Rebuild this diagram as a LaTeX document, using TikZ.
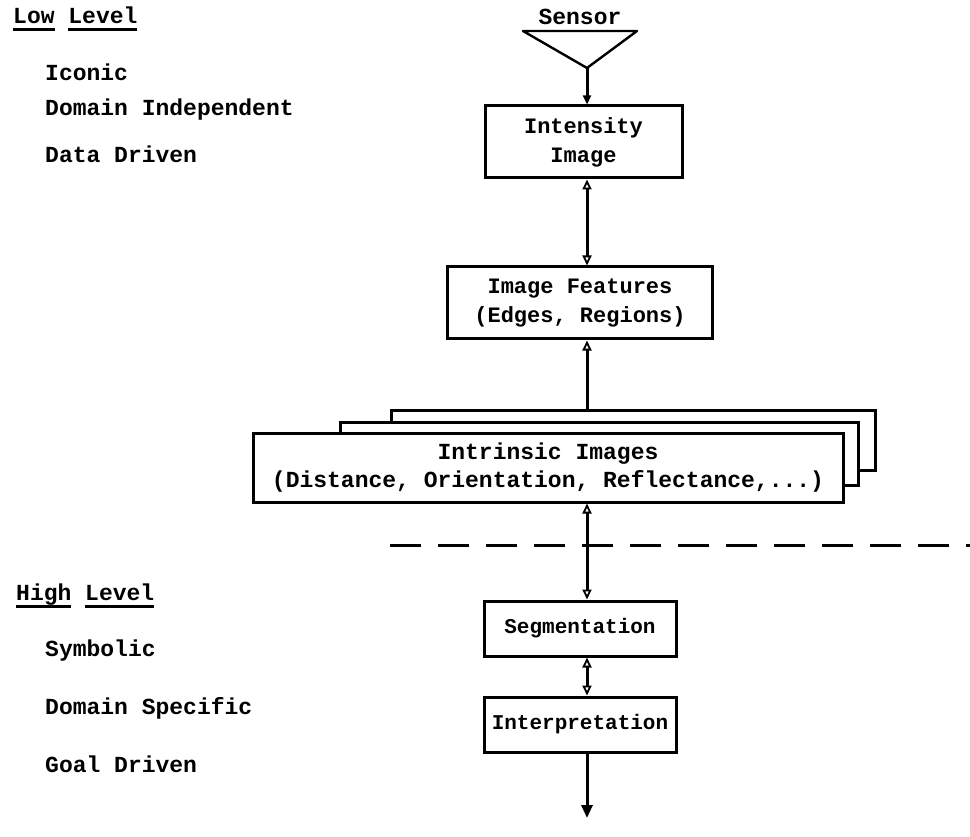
\documentclass[tikz,border=0pt]{standalone}
\usepackage{fontspec}
\setmainfont{Liberation Mono}
\usetikzlibrary{arrows.meta}
\newlength\myulw
\newcommand\myul[1]{\settowidth\myulw{#1}\rlap{\rule[-7pt]{\myulw}{2.6pt}}#1}
\tikzset{
  txt/.style={font=\fontsize{23}{28}\selectfont\bfseries, inner sep=0pt, anchor=west},
  box/.style={draw, line width=3pt, fill=white, align=center, font=\fontsize{22}{29}\selectfont\bfseries, inner sep=0pt},
  smallbox/.style={box, font=\fontsize{21}{28}\selectfont\bfseries},
  conn/.style={line width=3pt},
  otip/.tip={Triangle[open,length=10pt,width=9pt,line width=1.8pt]},
}
\begin{document}
\begin{tikzpicture}[x=1pt,y=-1pt]
\useasboundingbox (0,0) rectangle (970,837);
% left labels
\node[txt] (low) at (13,19) {\myul{Low} \myul{Level}};
\node[txt] (iconic) at (45,72) {Iconic};
\node[txt] (domind) at (45,110) {Domain Independent};
\node[txt] (datadr) at (45,154) {Data Driven};
\node[txt] (high) at (16,596) {\myul{High} \myul{Level}};
\node[txt] (symb) at (45,651) {Symbolic};
\node[txt] (domspec) at (45,708) {Domain Specific};
\node[txt] (goal) at (45,764) {Goal Driven};
% sensor
\node[txt, anchor=center] (sensor) at (580,17) {Sensor};
\coordinate (tl) at (523,31);
\coordinate (tr) at (637,31);
\coordinate (apex) at (587,68);
\draw[conn, line width=2.4pt, line join=round] (tl) -- (tr) -- (apex) -- cycle;
% boxes
\node[box, minimum width=197pt, minimum height=72pt] (intens) at (583.5,142) {Intensity\\Image};
\node[box, minimum width=265pt, minimum height=72pt] (feat) at (580,303) {Image Features\\(Edges, Regions)};
% stacked intrinsic images
\coordinate (backtl) at (391,410);
\coordinate (backbr) at (875,470);
\coordinate (midtl) at (340,422);
\coordinate (midbr) at (858,485);
\coordinate (frontpos) at (548,467.5);
\coordinate (stacktop) at (587,433);
\draw[conn, otip-] (feat.south -| apex) -- (stacktop);
\draw[box] (backtl) rectangle (backbr);
\draw[box] (midtl) rectangle (midbr);
\node[box, minimum width=590pt, minimum height=69pt, font=\fontsize{23}{28}\selectfont\bfseries] (intr) at (frontpos) {Intrinsic Images\\(Distance, Orientation, Reflectance,...)};
% dashed separator
\coordinate (dashL) at (390,545);
\coordinate (dashR) at (970,545);
\draw[line width=3pt, dash pattern=on 31pt off 17pt] (dashL) -- (dashR);
\node[smallbox, minimum width=192pt, minimum height=55pt] (seg) at (580,628.5) {Segmentation};
\node[smallbox, minimum width=192pt, minimum height=55pt] (interp) at (580,724.5) {Interpretation};
\coordinate (outend) at (587,818);
% connectors
\draw[conn, -{Triangle[length=9pt,width=8pt]}] (apex) -- (intens.north -| apex);
\draw[conn, otip-otip] (intens.south -| apex) -- (feat.north -| apex);
\draw[conn, otip-otip] (intr.south -| apex) -- (seg.north -| apex);
\draw[conn, otip-otip] (seg.south -| apex) -- (interp.north -| apex);
\draw[conn, -{Triangle[length=13pt,width=11pt]}] (interp.south -| apex) -- (outend);
\end{tikzpicture}
\end{document}
